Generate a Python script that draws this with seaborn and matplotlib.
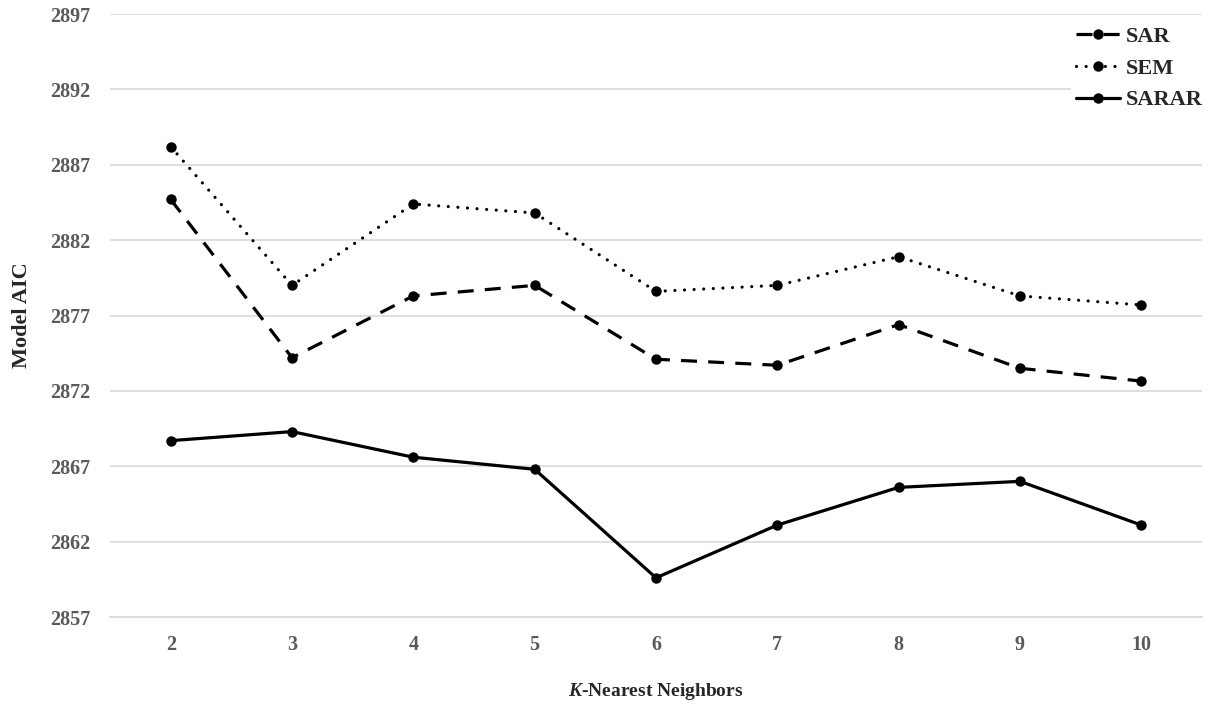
import numpy as np
import pandas as pd
import matplotlib
matplotlib.use('Agg')
import matplotlib.pyplot as plt
import seaborn as sns

sns.set_style('white')
plt.rcParams['font.family'] = ['Liberation Serif', 'DejaVu Serif']
plt.rcParams['font.weight'] = 'bold'
plt.rcParams['mathtext.fontset'] = 'custom'
plt.rcParams['mathtext.it'] = 'Liberation Serif:italic:bold'
plt.rcParams['mathtext.rm'] = 'Liberation Serif:bold'

k_values = [2, 3, 4, 5, 6, 7, 8, 9, 10]
sar = [2884.7, 2874.2, 2878.3, 2879.0, 2874.1, 2873.7, 2876.4, 2873.5, 2872.65]
sem = [2888.2, 2879.0, 2884.4, 2883.8, 2878.6, 2879.0, 2880.9, 2878.3, 2877.7]
sarar = [2868.7, 2869.3, 2867.6, 2866.8, 2859.6, 2863.1, 2865.6, 2866.0, 2863.1]
y_ticks = [2857, 2862, 2867, 2872, 2877, 2882, 2887, 2892, 2897]

df = pd.DataFrame({'k': k_values, 'SAR': sar, 'SEM': sem, 'SARAR': sarar})

fig = plt.figure(figsize=(12.2, 7.08), dpi=100)
ax = fig.add_axes([0.0902, 0.1285, 0.8950, 0.8517])

styles = {
    'SAR': dict(linestyle=(0, (5, 3.5)), dash_capstyle='butt'),
    'SEM': dict(linestyle=(0, (0.01, 3)), dash_capstyle='round'),
    'SARAR': dict(linestyle='-'),
}
for name in ['SAR', 'SEM', 'SARAR']:
    sns.lineplot(data=df, x='k', y=name, ax=ax, color='black', linewidth=2.3,
                 marker='o', markersize=7.5, markeredgewidth=0, label=name,
                 **styles[name])

ax.set_xlim(1.5, 10.5)
ax.set_ylim(2857, 2897)
ax.set_yticks(y_ticks)
ax.set_xticks(k_values)
ax.set_xticks(np.arange(1.5, 10.6, 1), minor=True)
ax.grid(axis='y', color='#d9d9d9', linewidth=1.2)
ax.grid(axis='x', visible=False)
for side in ['top', 'right', 'left']:
    ax.spines[side].set_visible(False)
ax.spines['bottom'].set_color('#d9d9d9')
ax.spines['bottom'].set_linewidth(1.2)
ax.tick_params(axis='x', which='major', length=0, pad=13, labelsize=14.5, labelcolor='#595959')
ax.tick_params(axis='x', which='minor', length=5, width=1.2, color='#d9d9d9')
ax.tick_params(axis='y', length=0, pad=14, labelsize=14.5, labelcolor='#595959')
for lab in ax.get_xticklabels() + ax.get_yticklabels():
    lab.set_fontweight('bold')

ax.set_xlabel(r'$\mathit{K}$-Nearest Neighbors', fontsize=14, fontweight='bold', labelpad=19)
ax.set_ylabel('Model AIC', fontsize=16, fontweight='bold', labelpad=13)

leg = ax.legend(loc='upper right', bbox_to_anchor=(1.015, 1.005), frameon=True, fontsize=16,
                handlelength=2.0, handletextpad=0.25, labelspacing=0.5, borderpad=0.2,
                edgecolor='white', facecolor='white', framealpha=1, fancybox=False)
for t in leg.get_texts():
    t.set_fontweight('bold')

fig.savefig('out.png', dpi=100)
plt.close(fig)
